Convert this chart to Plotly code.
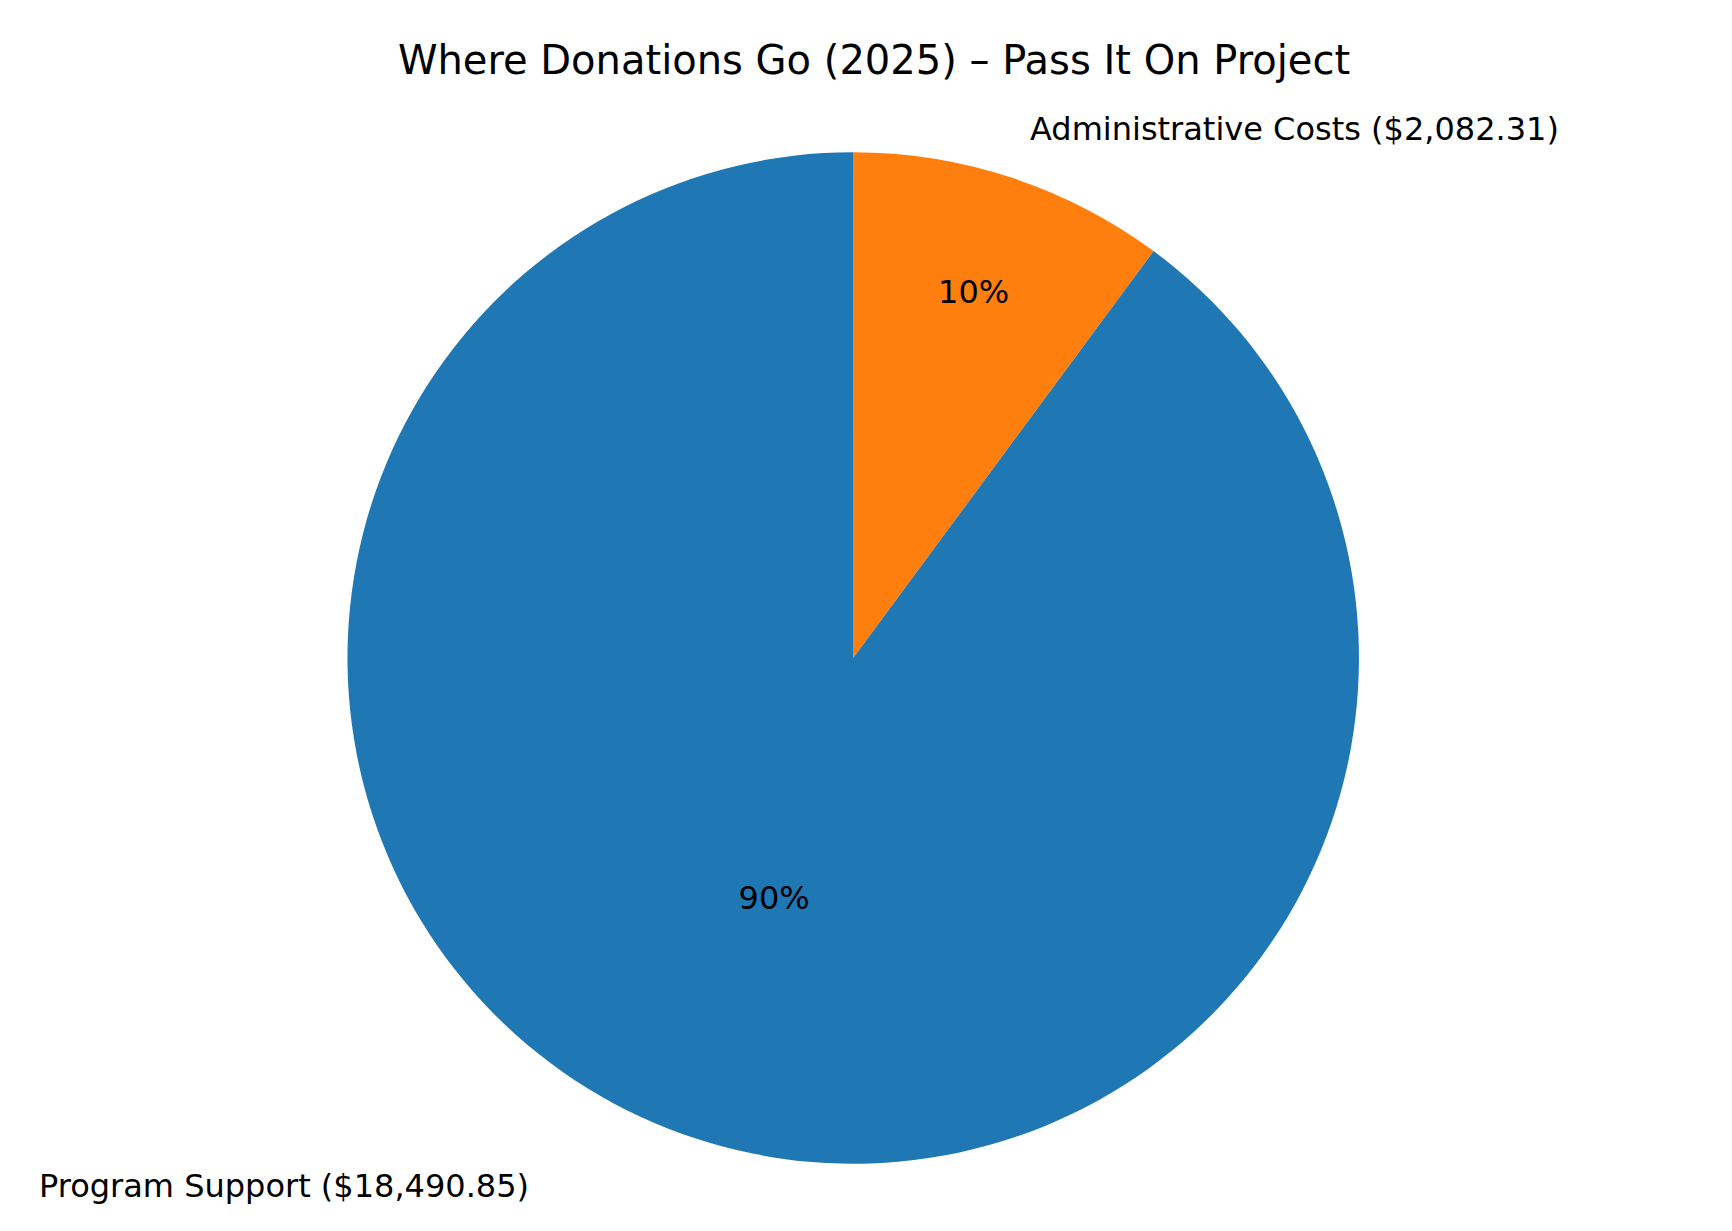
import plotly.graph_objects as go

labels = ["Administrative Costs", "Program Support"]
values = [2082.31, 18490.85]
colors = ["#ff7f0e", "#1f77b4"]
outer_labels = ["Administrative Costs ($2,082.31)", "Program Support ($18,490.85)"]

fig = go.Figure(go.Pie(
    labels=labels, values=values, sort=False, direction="clockwise", rotation=0,
    marker=dict(colors=colors), texttemplate="%{percent:.0%}", textposition="inside",
    insidetextfont=dict(color="black", size=32, family="DejaVu Sans"),
    insidetextorientation="horizontal", showlegend=False, hoverinfo="label+value+percent",
    domain=dict(x=[0.196, 0.780], y=[0.061, 0.883]),
))
fig.update_layout(
    width=1732, height=1231, margin=dict(l=0, r=0, t=0, b=0),
    paper_bgcolor="white", font=dict(family="DejaVu Sans", color="black"),
    title=dict(text="Where Donations Go (2025) – Pass It On Project", x=0.5, y=0.958,
               xanchor="center", yanchor="middle", font=dict(size=40)),
    annotations=[
        dict(text=outer_labels[0], x=0.589, y=0.902, xref="paper", yref="paper",
             xanchor="left", yanchor="middle", showarrow=False, font=dict(size=32)),
        dict(text=outer_labels[1], x=0.017, y=0.043, xref="paper", yref="paper",
             xanchor="left", yanchor="middle", showarrow=False, font=dict(size=32)),
    ],
)
fig.write_html("out.html")
